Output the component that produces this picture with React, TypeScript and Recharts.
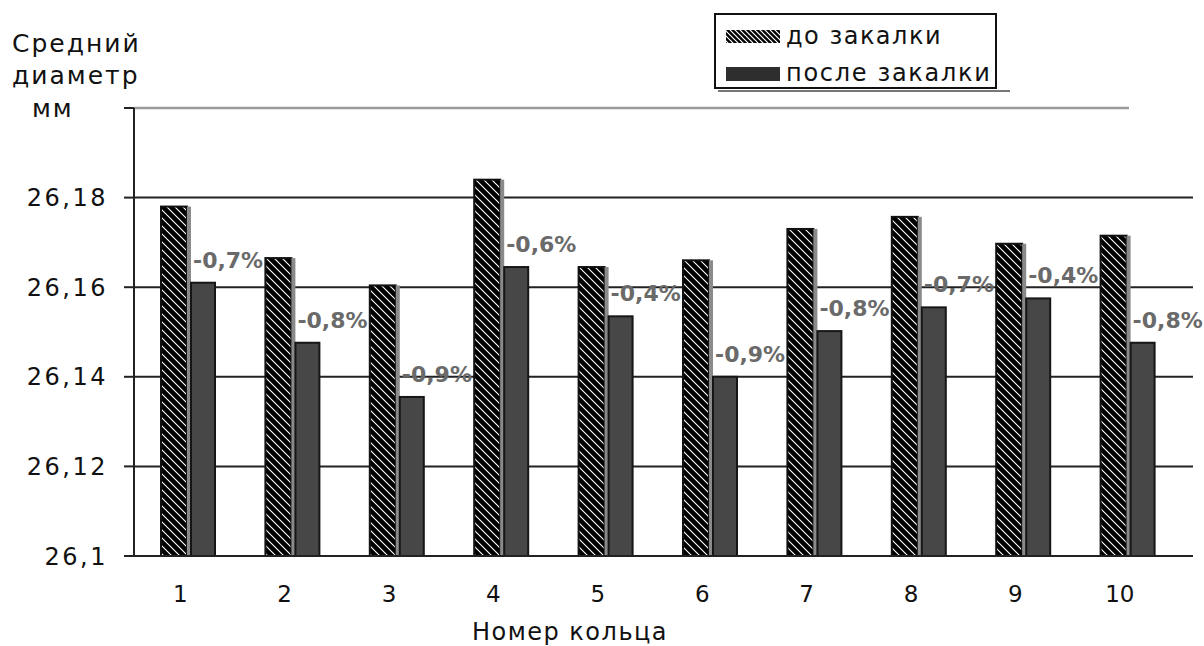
import { Bar, BarChart, CartesianGrid, LabelList, XAxis, YAxis } from "recharts";

const rings = ["1", "2", "3", "4", "5", "6", "7", "8", "9", "10"];
const beforeQuench = [26.178, 26.1665, 26.1604, 26.184, 26.1645, 26.166, 26.173, 26.1757, 26.1697, 26.1715];
const afterQuench = [26.161, 26.1476, 26.1355, 26.1645, 26.1535, 26.14, 26.1502, 26.1555, 26.1575, 26.1476];
const changeLabels = ["-0,7%", "-0,8%", "-0,9%", "-0,6%", "-0,4%", "-0,9%", "-0,8%", "-0,7%", "-0,4%", "-0,8%"];
const yTicks = [26.1, 26.12, 26.14, 26.16, 26.18, 26.2];
const seriesNames = ["до закалки", "после закалки"];
const yTitle = ["Средний", "диаметр", "мм"];
const xTitle = "Номер кольца";

const data = rings.map((ring, i) => ({
  ring,
  before: beforeQuench[i],
  after: afterQuench[i],
  change: changeLabels[i],
}));

const FONT = "'DejaVu Sans', sans-serif";
const PLOT_TOP = 108;

function HatchedBar(props: any) {
  const { x, y, height } = props;
  if (!height) return null;
  return (
    <g>
      <rect x={x} y={y} width={26} height={height} fill="url(#hatch)" stroke="#111" strokeWidth={2} />
      <rect x={x + 26} y={y} width={4} height={height} fill="#8a8a8a" />
    </g>
  );
}

function DarkBar(props: any) {
  const { x, y, height } = props;
  if (!height) return null;
  return <rect x={x + 3} y={y} width={24} height={height} fill="#474747" stroke="#161616" strokeWidth={2} />;
}

function gridLine(props: any) {
  const { x1, x2, y1, y2 } = props;
  if (Math.abs(y1 - PLOT_TOP) < 2) {
    return <line key={props.key} x1={x1} x2={x2 - 64} y1={y1} y2={y2} stroke="#9a9a9a" strokeWidth={2.5} />;
  }
  return <line key={props.key} x1={x1} x2={x2} y1={y1} y2={y2} stroke="#222" strokeWidth={2} />;
}

export default function App() {
  return (
    <div style={{ position: "absolute", left: 0, top: 0, width: 1204, height: 646, background: "#fff" }}>
      <BarChart
        width={1204}
        height={646}
        data={data}
        margin={{ top: PLOT_TOP, right: 11, left: 0, bottom: 0 }}
        barSize={27}
        barGap={0}
      >
        <defs>
          <pattern id="hatch" patternUnits="userSpaceOnUse" width={8} height={8}>
            <rect width={8} height={8} fill="#000" />
            <path d="M0,0 L8,8 M-2,6 L2,10 M6,-2 L10,2" stroke="#fff" strokeWidth={1.1} />
          </pattern>
        </defs>
        <CartesianGrid vertical={false} horizontal={gridLine} />
        <XAxis
          dataKey="ring"
          height={90}
          padding={{ left: 2, right: 13 }}
          tickLine={false}
          tickSize={0}
          tickMargin={30}
          axisLine={{ stroke: "#222", strokeWidth: 2 }}
          tick={{ fontFamily: FONT, fontSize: 23, fill: "#111", dx: -8 }}
          label={{
            content: () => (
              <text x={570} y={640} textAnchor="middle" fontFamily={FONT} fontSize={24} fill="#111" letterSpacing={1.5}>
                {xTitle}
              </text>
            ),
          }}
        />
        <YAxis
          width={134}
          domain={[26.1, 26.2]}
          ticks={yTicks}
          interval={0}
          tickSize={10}
          tickMargin={16}
          tickFormatter={(v: number) => (v === 26.2 ? "" : String(v).replace(".", ","))}
          axisLine={{ stroke: "#222", strokeWidth: 2 }}
          tickLine={{ stroke: "#222", strokeWidth: 2 }}
          tick={{ fontFamily: FONT, fontSize: 24, fill: "#111", letterSpacing: 2.5 }}
          label={{
            content: () => (
              <text fontFamily={FONT} fontSize={25} fill="#111" letterSpacing={2}>
                <tspan x={12} y={52}>{yTitle[0]}</tspan>
                <tspan x={12} y={84}>{yTitle[1]}</tspan>
                <tspan x={32} y={117}>{yTitle[2]}</tspan>
              </text>
            ),
          }}
        />
        <Bar dataKey="before" name={seriesNames[0]} shape={HatchedBar} isAnimationActive={false} />
        <Bar dataKey="after" name={seriesNames[1]} shape={DarkBar} isAnimationActive={false}>
          <LabelList
            dataKey="change"
            content={(p: any) => (
              <text x={p.x + 5} y={p.y - 15} fontFamily={FONT} fontWeight="bold" fontSize={22} fill="#6a6a6a">
                {p.value}
              </text>
            )}
          />
        </Bar>
      </BarChart>
      <svg style={{ position: "absolute", left: 0, top: 0 }} width={1204} height={110}>
        <defs>
          <pattern id="hatchLegend" patternUnits="userSpaceOnUse" width={5} height={5}>
            <rect width={5} height={5} fill="#000" />
            <path d="M0,0 L5,5 M-1,4 L1,6 M4,-1 L6,1" stroke="#fff" strokeWidth={1.2} />
          </pattern>
        </defs>
        <line x1={718} x2={1010} y1={91} y2={91} stroke="#777" strokeWidth={2} />
        <rect x={715} y={14} width={281} height={74} fill="#fff" stroke="#111" strokeWidth={2} />
        <rect x={726} y={30} width={54} height={13} fill="url(#hatchLegend)" />
        <rect x={726} y={67} width={54} height={14} fill="#2e2e2e" />
        <text x={786} y={44} fontFamily={FONT} fontSize={24} fill="#111" letterSpacing={1.5}>
          {seriesNames[0]}
        </text>
        <text x={786} y={81} fontFamily={FONT} fontSize={24} fill="#111" letterSpacing={1.7}>
          {seriesNames[1]}
        </text>
      </svg>
    </div>
  );
}
